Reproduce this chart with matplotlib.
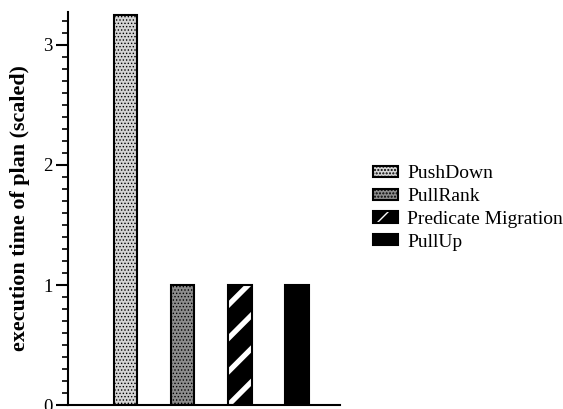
import numpy as np
import matplotlib.pyplot as plt

plt.rcParams['font.family'] = ['Liberation Serif', 'DejaVu Serif']

# Data
methods = ['PushDown', 'PullRank', 'Predicate Migration', 'PullUp']
exec_time = [3.25, 1.0, 1.0, 1.0]
faces = ['#d4d4d4', '#8c8c8c', 'black', 'black']
hatches = ['.....', '.....', '/', None]

fig = plt.figure(figsize=(5.63, 4.09), dpi=100)
ax = fig.add_axes([68 / 563, 4 / 409, (340 - 68) / 563, (405 - 12) / 409])

x = np.arange(1, len(methods) + 1)
handles = []
for xi, val, fc, h, name in zip(x, exec_time, faces, hatches, methods):
    if h == '/':
        # white stripes on black: hatch drawn in edge colour (white), outline on top
        inner = ax.bar(xi, val, width=0.41, color=fc, edgecolor='white',
                       linewidth=0, hatch=h)[0]
        if hasattr(inner, 'set_hatch_linewidth'):
            inner.set_hatch_linewidth(3.8)
        outer = ax.bar(xi, val, width=0.41, fill=False, edgecolor='black',
                       linewidth=1.5)[0]
        handles.append((inner, outer))
    else:
        b = ax.bar(xi, val, width=0.41, color=fc, edgecolor='black',
                   linewidth=1.5, hatch=h)[0]
        if h and hasattr(b, 'set_hatch_linewidth'):
            b.set_hatch_linewidth(0.6)
        handles.append(b)

ax.set_xlim(0, 4.75)
ax.set_ylim(0, 3.275)
ax.set_yticks([0, 1, 2, 3])
ax.set_yticks(np.arange(0, 3.3, 0.1), minor=True)
ax.tick_params(axis='y', which='major', length=9, width=1.5, labelsize=13.5, pad=2, direction='out')
ax.tick_params(axis='y', which='minor', length=4.5, width=1.2, direction='out')
ax.set_xticks([])
ax.spines['top'].set_visible(False)
ax.spines['right'].set_visible(False)
ax.spines['left'].set_linewidth(1.5)
ax.spines['bottom'].set_linewidth(1.5)

ax.set_ylabel('execution time of plan (scaled)', fontsize=15.8, fontweight='bold')
ax.yaxis.set_label_coords(-38 / 272, 0.5)

fig.legend(handles, methods, loc='center left', bbox_to_anchor=(373 / 563, 1 - 208 / 409),
           frameon=False, fontsize=14, handlelength=1.3, handleheight=0.5,
           handletextpad=0.45, labelspacing=0.3, borderpad=0, borderaxespad=0)

fig.savefig('out.png', dpi=100)
